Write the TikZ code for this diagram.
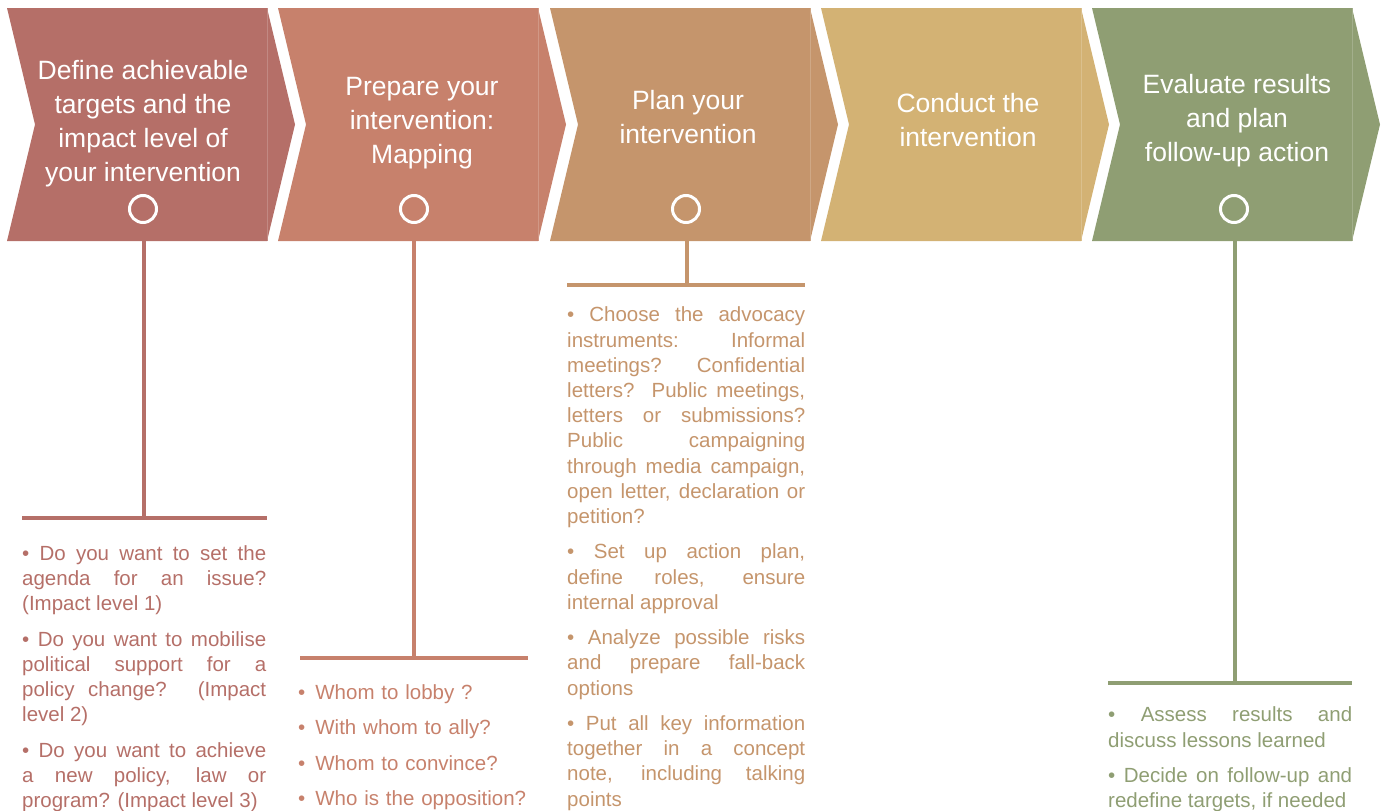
\documentclass[tikz,border=0pt]{standalone}
\usepackage{xcolor}
\usepackage{fontspec}
\setmainfont{Liberation Sans}
\usepackage{tikz}
\usetikzlibrary{positioning}
\definecolor{defc}{HTML}{B56F68}
\definecolor{prepc}{HTML}{C7816C}
\definecolor{planc}{HTML}{C5956C}
\definecolor{condc}{HTML}{D3B274}
\definecolor{evalc}{HTML}{8F9E73}
\newcommand{\headtext}{\fontsize{26.5}{34}\selectfont}
\newcommand{\bodytext}{\fontsize{20.5}{25.2}\selectfont\tolerance=10000\hbadness=10000\hyphenpenalty=10000\exhyphenpenalty=10000}

\begin{document}
\begin{tikzpicture}[x=1pt,y=-1pt,
  head/.style={text=white,font=\headtext,align=center,inner sep=0pt,anchor=north},
  ring/.style={circle,draw=white,line width=3pt,minimum size=27pt,inner sep=0pt},
  stem/.style={line width=4pt},
  bar/.style={line width=4.5pt},
  entry/.style={font=\bodytext,text width=244pt,align=justify,inner sep=0pt,anchor=north west}]
\useasboundingbox (0,0) rectangle (1384,811);
% chevrons
\foreach \x/\col in {7/defc,278/prepc,550/planc,821/condc,1092/evalc}{
  \fill[\col] (\x,8) -- ++(260,0) -- ++(28,116.5) -- ++(-28,116.5) -- ++(-260,0) -- ++(28,-116.5) -- cycle;
  \draw[\col!82!white,line width=.8pt] (\x+260,8) -- (\x+260,241);
}
\node[head] (h1) at (143,55.2) {\strut Define achievable\\targets and the\\impact level of\\your intervention};
\node[head] (h2) at (422,71.2) {\strut Prepare your\\intervention:\\Mapping};
\node[head] (h3) at (688,85.7) {\strut Plan your\\intervention};
\node[head] (h4) at (968,88.2) {\strut Conduct the\\intervention};
\node[head] (h5) at (1237,69.5) {\strut Evaluate results\\and plan\\follow-up action};
\node[ring] (r1) at (143,209) {};
\node[ring] (r2) at (414,209) {};
\node[ring] (r3) at (686,209) {};
\node[ring] (r5) at (1234,209) {};
% stems and bars
\coordinate (s1) at (143.5,241); \coordinate (k1) at (143.5,518);
\coordinate (k1w) at (22,518); \coordinate (k1e) at (267,518);
\coordinate (s2) at (414,241); \coordinate (k2) at (414,658);
\coordinate (k2w) at (300,658); \coordinate (k2e) at (528,658);
\coordinate (s3) at (687,241); \coordinate (k3) at (687,285);
\coordinate (k3w) at (567,285); \coordinate (k3e) at (805,285);
\coordinate (s5) at (1235,241); \coordinate (k5) at (1235,683);
\coordinate (k5w) at (1108,683); \coordinate (k5e) at (1352,683);
\draw[stem,defc] (s1) -- (k1); \draw[bar,defc] (k1w) -- (k1e);
\draw[stem,prepc] (s2) -- (k2); \draw[bar,prepc] (k2w) -- (k2e);
\draw[stem,planc] (s3) -- (k3); \draw[bar,planc] (k3w) -- (k3e);
\draw[stem,evalc] (s5) -- (k5); \draw[bar,evalc] (k5w) -- (k5e);
% bullet lists
\node[entry,text=defc] (d1) at (22,542.4) {\strut• Do you want to set the\linebreak agenda for an issue?\linebreak (Impact level 1)\strut};
\node[entry,text=defc,below=9.8pt of d1] (d2) {\strut• Do you want to mobilise\linebreak political support for a\linebreak policy change? (Impact\linebreak level 2)\strut};
\node[entry,text=defc,below=9.8pt of d2] (d3) {\strut• Do you want to achieve\linebreak a new policy, law or\linebreak program? (Impact level 3)\strut};
\node[entry,text=prepc,text width=230pt,align=left] (m1) at (298,681.4) {\strut•\hspace{10pt}Whom to lobby ?\strut};
\node[entry,text=prepc,text width=230pt,align=left,below=9.8pt of m1] (m2) {\strut•\hspace{10pt}With whom to ally?\strut};
\node[entry,text=prepc,text width=230pt,align=left,below=9.8pt of m2] (m3) {\strut•\hspace{10pt}Whom to convince?\strut};
\node[entry,text=prepc,text width=230pt,align=left,below=9.8pt of m3] (m4) {\strut•\hspace{10pt}Who is the opposition?\strut};
\node[entry,text=planc,text width=238pt] (p1) at (567,304) {\strut• Choose the advocacy\linebreak instruments: Informal\linebreak meetings? Confidential\linebreak letters? Public meetings,\linebreak letters or submissions?\linebreak Public campaigning\linebreak through media campaign,\linebreak open letter, declaration or\linebreak petition?\strut};
\node[entry,text=planc,text width=238pt,below=9.8pt of p1] (p2) {\strut• Set up action plan,\linebreak define roles, ensure\linebreak internal approval\strut};
\node[entry,text=planc,text width=238pt,below=9.8pt of p2] (p3) {\strut• Analyze possible risks\linebreak and prepare fall-back\linebreak options\strut};
\node[entry,text=planc,text width=238pt,below=9.8pt of p3] (p4) {\strut• Put all key information\linebreak together in a concept\linebreak note, including talking\linebreak points\strut};
\node[entry,text=evalc] (e1) at (1108,704) {\strut• Assess results and\linebreak discuss lessons learned\strut};
\node[entry,text=evalc,below=9.8pt of e1] (e2) {\strut• Decide on follow-up and\linebreak redefine targets, if needed\strut};
\end{tikzpicture}
\end{document}
